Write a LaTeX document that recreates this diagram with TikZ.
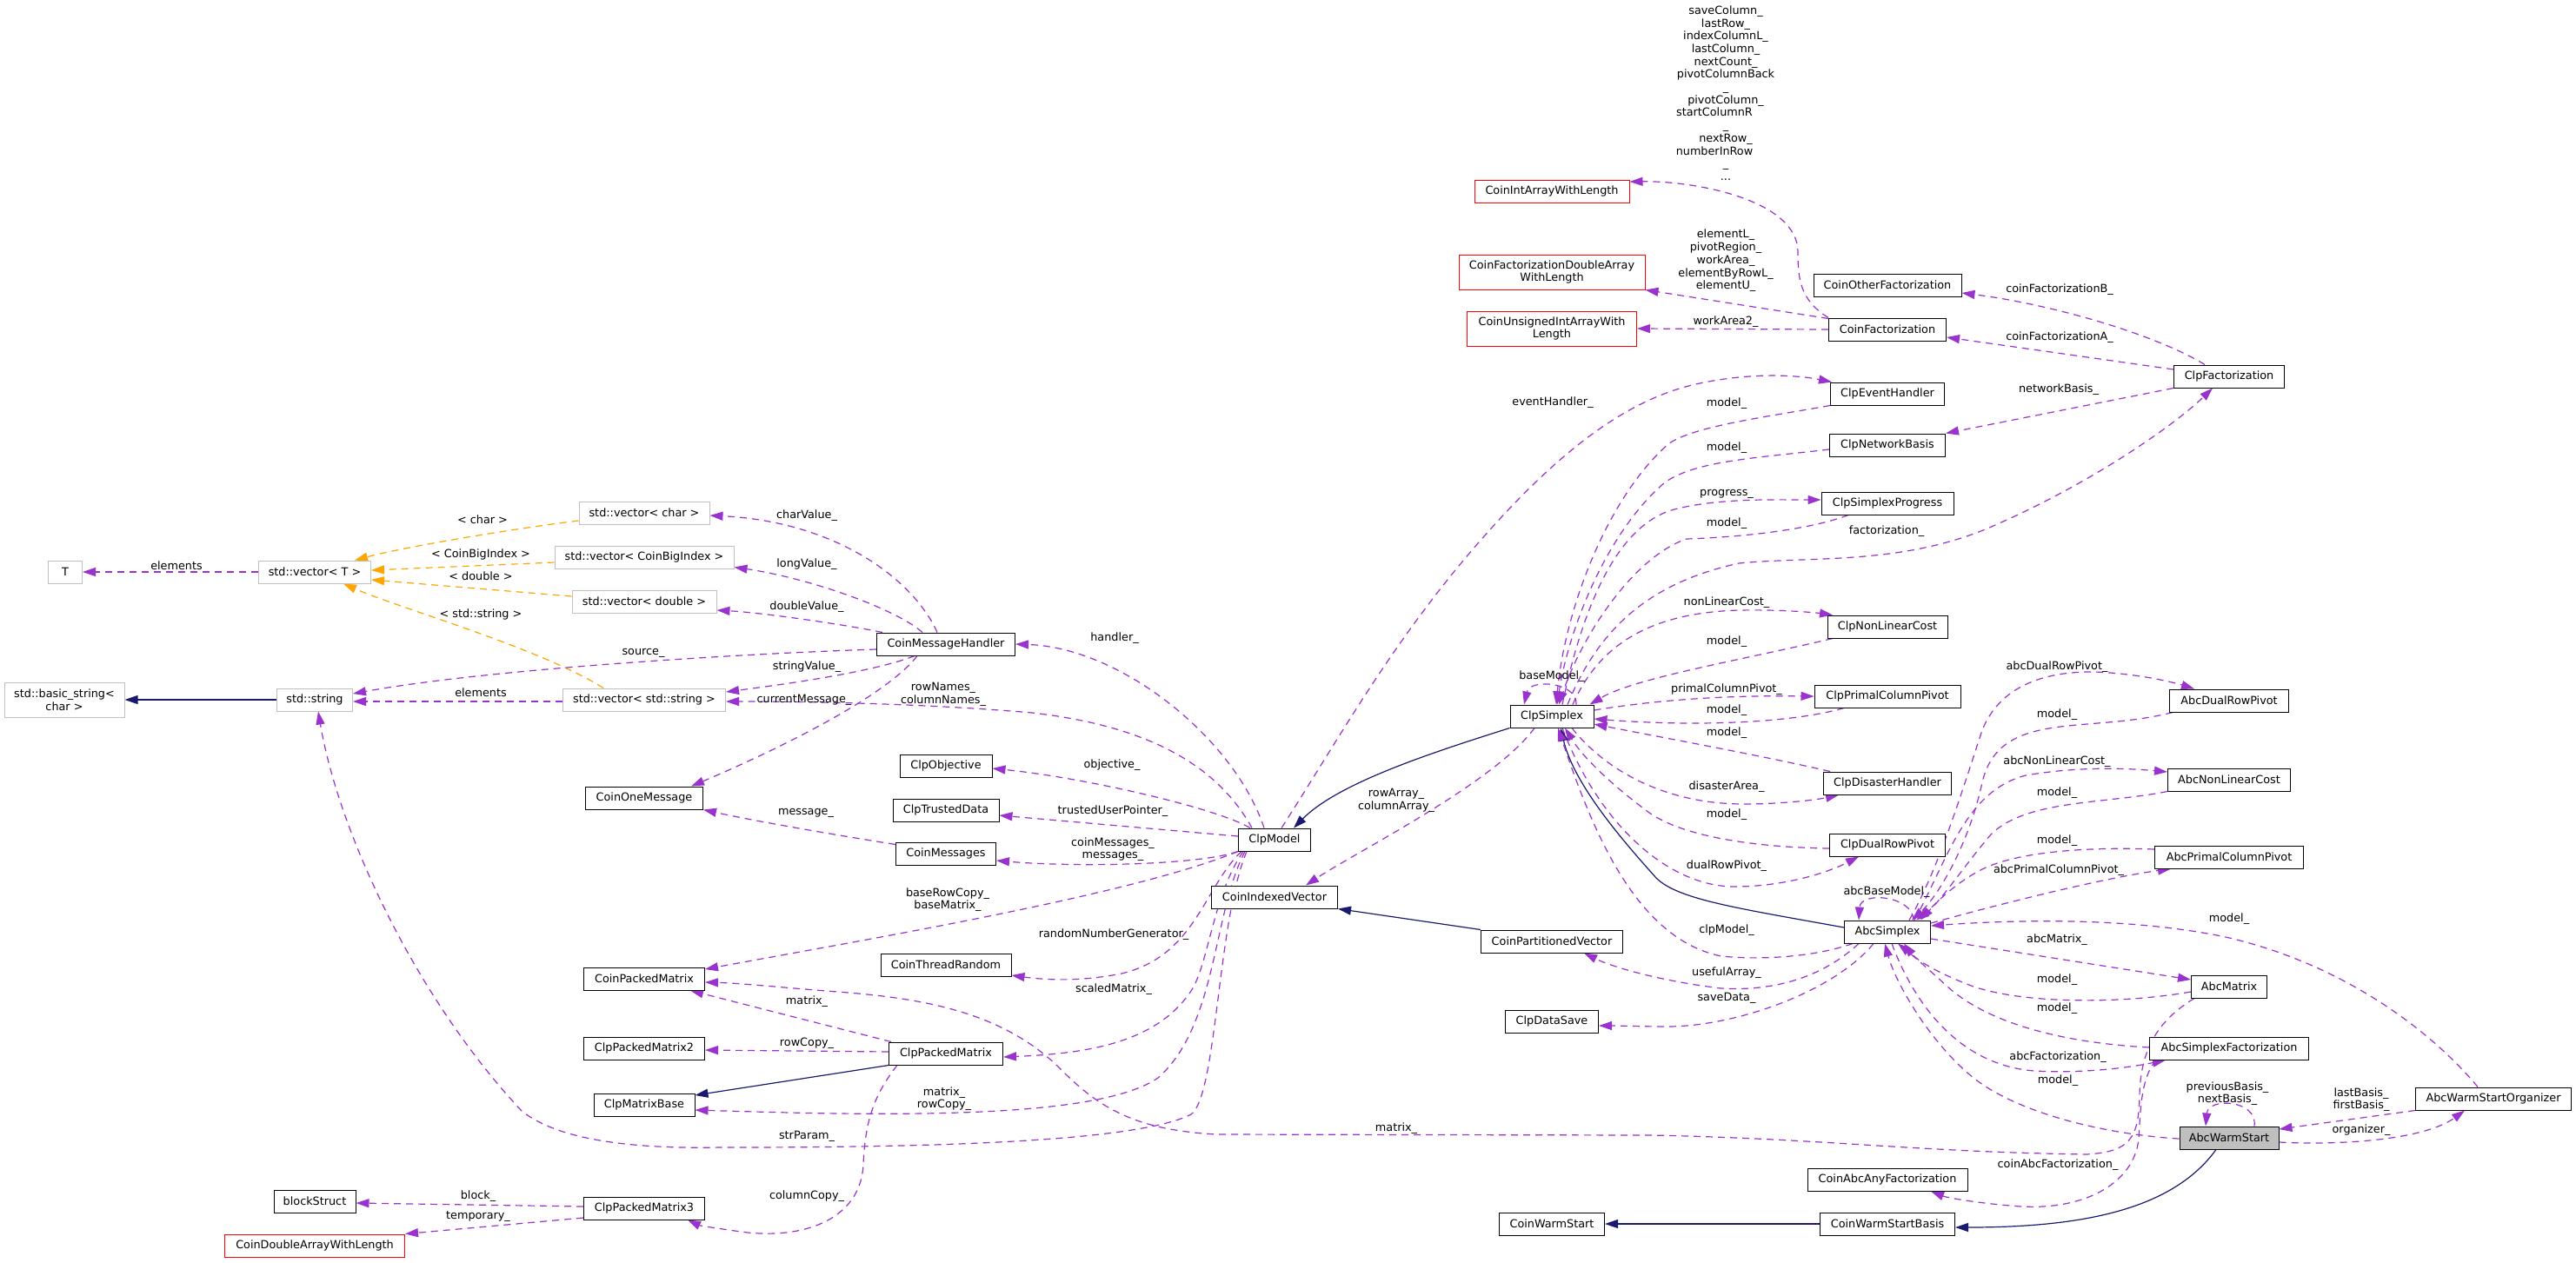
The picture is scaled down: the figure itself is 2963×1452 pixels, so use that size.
\documentclass[tikz,border=0pt]{standalone}
\usepackage{fontspec}
\setmainfont{DejaVu Sans}
\usetikzlibrary{arrows.meta,backgrounds,calc}
\definecolor{dxorchid}{HTML}{9A32CD}
\definecolor{dxnavy}{HTML}{191970}
\definecolor{dxorange}{HTML}{FFA500}
\definecolor{dxgray}{HTML}{BFBFBF}
\definecolor{dxred}{HTML}{FF0000}
\newcommand\dxf{\fontsize{12.8}{14.7}\selectfont}
\tikzset{
  cls/.style={draw=black, line width=1pt, fill=white, minimum height=26pt, inner xsep=3pt, inner ysep=2pt, font=\dxf, text=black},
  extcls/.style={cls, draw=dxgray},
  trunccls/.style={cls, draw=dxred},
  focuscls/.style={cls, fill=dxgray},
  dep/.style={draw=dxorchid, line width=1.2pt, dash pattern=on 8pt off 6pt, -{Triangle[length=15pt,width=10pt]}},
  tpl/.style={dep, draw=dxorange},
  inh/.style={draw=dxnavy, line width=1.2pt, -{Triangle[length=15pt,width=10pt]}},
  lbl/.style={font=\dxf, inner sep=0pt, align=center, text=black}
}
\begin{document}
\begin{tikzpicture}[x=1pt,y=-1pt]
\useasboundingbox (0,0) rectangle (2963,1452);
% ---------- nodes ----------
\node[extcls, minimum width=39pt] (T) at (75,658) {T};
\node[extcls, minimum width=129pt] (vecT) at (362,658) {std::vector< T >};
\node[extcls, minimum width=150pt] (vecChar) at (741,590) {std::vector< char >};
\node[extcls, minimum width=206pt] (vecBig) at (741,641) {std::vector< CoinBigIndex >};
\node[extcls, minimum width=166pt] (vecDbl) at (741,692) {std::vector< double >};
\node[extcls, minimum width=138pt, minimum height=40pt, align=center] (bstr) at (74,805) {std::basic\_string<\\char >};
\node[extcls, minimum width=87pt] (str) at (362,805) {std::string};
\node[extcls, minimum width=187pt] (vecStr) at (741,805) {std::vector< std::string >};
\node[cls, minimum width=159pt] (cmh) at (1088,741) {CoinMessageHandler};
\node[cls, minimum width=135pt] (com) at (741,918) {CoinOneMessage};
\node[cls, minimum width=106pt] (cobj) at (1088,881) {ClpObjective};
\node[cls, minimum width=122pt] (ctd) at (1088,932) {ClpTrustedData};
\node[cls, minimum width=115pt] (cmsg) at (1088,982) {CoinMessages};
\node[cls, minimum width=83pt] (model) at (1466,966) {ClpModel};
\node[cls, minimum width=145pt] (civ) at (1466,1032) {CoinIndexedVector};
\node[cls, minimum width=150pt] (ctr) at (1088,1110) {CoinThreadRandom};
\node[cls, minimum width=131pt] (cpm) at (1088,1212) {ClpPackedMatrix};
\node[cls, minimum width=163pt] (cpv) at (1785,1083) {CoinPartitionedVector};
\node[cls, minimum width=107pt] (cds) at (1785,1175) {ClpDataSave};
\node[cls, minimum width=121pt] (cws) at (1785,1408) {CoinWarmStart};
\node[cls, minimum width=139pt] (coinpm) at (741,1126) {CoinPackedMatrix};
\node[cls, minimum width=139pt] (cpm2) at (741,1206) {ClpPackedMatrix2};
\node[cls, minimum width=116pt] (cmb) at (741,1271) {ClpMatrixBase};
\node[cls, minimum width=94pt] (blk) at (362,1382) {blockStruct};
\node[cls, minimum width=139pt] (cpm3) at (741,1390) {ClpPackedMatrix3};
\node[trunccls, minimum width=207pt] (cdawl) at (362,1433) {CoinDoubleArrayWithLength};
\node[cls, minimum width=96pt] (simplex) at (1785,824) {ClpSimplex};
\node[cls, minimum width=131pt] (ceh) at (2171,453) {ClpEventHandler};
\node[cls, minimum width=133pt] (cnb) at (2171,512) {ClpNetworkBasis};
\node[cls, minimum width=152pt] (csp) at (2171,579) {ClpSimplexProgress};
\node[cls, minimum width=138pt] (cnlc) at (2171,721) {ClpNonLinearCost};
\node[cls, minimum width=168pt] (cpcp) at (2171,801) {ClpPrimalColumnPivot};
\node[cls, minimum width=127pt] (cfact) at (2564,433) {ClpFactorization};
\node[cls, minimum width=147pt] (cdh) at (2171,901) {ClpDisasterHandler};
\node[cls, minimum width=133pt] (cdrp) at (2171,972) {ClpDualRowPivot};
\node[cls, minimum width=99pt] (abc) at (2171,1072) {AbcSimplex};
\node[cls, minimum width=137pt] (adrp) at (2564,806) {AbcDualRowPivot};
\node[cls, minimum width=141pt] (anlc) at (2564,897) {AbcNonLinearCost};
\node[cls, minimum width=171pt] (apcp) at (2564,986) {AbcPrimalColumnPivot};
\node[cls, minimum width=87pt] (amat) at (2564,1135) {AbcMatrix};
\node[cls, minimum width=183pt] (asf) at (2564,1206) {AbcSimplexFactorization};
\node[cls, minimum width=179pt] (awso) at (2868,1264) {AbcWarmStartOrganizer};
\node[focuscls, minimum width=114pt] (aws) at (2564,1309) {AbcWarmStart};
\node[cls, minimum width=184pt] (caaf) at (2171,1357) {CoinAbcAnyFactorization};
\node[cls, minimum width=155pt] (cwsb) at (2171,1408) {CoinWarmStartBasis};
\node[cls, minimum width=170pt] (cof) at (2171,328) {CoinOtherFactorization};
\node[cls, minimum width=135pt] (cf) at (2171,379) {CoinFactorization};
\node[trunccls, minimum width=178pt] (ciawl) at (1785,220) {CoinIntArrayWithLength};
\node[trunccls, minimum width=214pt, minimum height=40pt, align=center] (cfdawl) at (1785,313) {CoinFactorizationDoubleArray\\WithLength};
\node[trunccls, minimum width=195pt, minimum height=40pt, align=center] (cuiawl) at (1785,378) {CoinUnsignedIntArrayWith\\Length};
% ---------- edges ----------
\begin{scope}[on background layer]
\fill[white] (0,0) rectangle (2963,1452);
\draw[dep] (vecT.west) -- (T.east);
\draw[tpl] ([yshift=-9pt]vecChar.west) .. controls (600,607) and (470,628) .. ([xshift=46pt]vecT.north);
\draw[tpl] ([yshift=-6pt]vecBig.west) -- ([yshift=2pt]vecT.east);
\draw[tpl] ([yshift=6pt]vecDbl.west) -- ([yshift=-9pt]vecT.east);
\draw[tpl] ([xshift=-47pt]vecStr.north) .. controls (620,745) and (460,700) .. ([xshift=33pt]vecT.south);
\draw[inh] (str.west) -- (bstr.east);
\draw[dep] ([yshift=-2pt]vecStr.west) -- ([yshift=-2pt]str.east);
\draw[dep] ([yshift=-6pt]cmh.west) .. controls (850,752) and (560,770) .. ([yshift=7pt]str.east);
\draw[dep] ([xshift=-10pt]cmh.north) .. controls (1050,665) and (960,600) .. ([yshift=-3pt]vecChar.east);
\draw[dep] ([xshift=-27pt]cmh.north) .. controls (1030,700) and (930,665) .. ([yshift=2pt]vecBig.south east);
\draw[dep] ([xshift=-73pt]cmh.north) .. controls (980,720) and (880,705) .. ([yshift=-10pt]vecDbl.east);
\draw[dep] ([xshift=-36pt]cmh.south) .. controls (1000,775) and (880,790) .. ([yshift=9pt]vecStr.east);
\draw[dep] ([xshift=-26pt]model.north) .. controls (1400,880) and (1320,835) .. (1187,820) .. controls (1050,808) and (900,807) .. ([yshift=-2pt]vecStr.east);
\draw[dep] ([xshift=-33pt]cmh.south) .. controls (1020,800) and (900,860) .. ([xshift=54pt]com.north);
\draw[dep] ([yshift=-3pt]cmsg.north west) .. controls (970,962) and (870,945) .. (com.south east);
\draw[dep] ([xshift=-12pt]model.north) .. controls (1420,850) and (1290,745) .. (cmh.east);
\draw[dep] ([xshift=-28pt]model.north) .. controls (1400,930) and (1250,895) .. ([yshift=-3pt]cobj.east);
\draw[dep] ([yshift=4pt]model.west) -- ([yshift=-6pt]ctd.east);
\draw[dep] (model.south west) .. controls (1380,995) and (1240,998) .. ([yshift=-8pt]cmsg.east);
\draw[dep] (model.south west) .. controls (1300,1030) and (1000,1080) .. ([yshift=11pt]coinpm.east);
\draw[dep] ([xshift=4pt]model.south west) .. controls (1385,1020) and (1375,1100) .. (1290,1120) .. controls (1240,1130) and (1200,1127) .. ([yshift=-12pt]ctr.east);
\draw[dep] ([xshift=6pt]model.south west) .. controls (1395,1030) and (1390,1110) .. (1370,1140) .. controls (1330,1200) and (1250,1212) .. ([yshift=-4pt]cpm.east);
\draw[dep] ([xshift=8pt]model.south west) .. controls (1395,1050) and (1400,1180) .. (1332,1240) .. controls (1260,1290) and (1000,1283) .. ([yshift=-6pt]cmb.east);
\draw[dep] ([xshift=10pt]model.south west) .. controls (1400,1060) and (1400,1260) .. (1370,1282) .. controls (1300,1318) and (1000,1320) .. (829,1320) .. controls (720,1322) and (640,1310) .. (600,1278) .. controls (480,1150) and (390,960) .. ([xshift=4pt]str.south);
\draw[inh] (simplex.south west) .. controls (1650,865) and (1540,900) .. ([xshift=22pt]model.north);
\draw[dep] ([xshift=-20pt]simplex.south) .. controls (1720,900) and (1560,980) .. ([xshift=36pt]civ.north);
\draw[dep] ([xshift=8pt]model.north) .. controls (1540,850) and (1600,740) .. (1700,625) .. controls (1800,510) and (1880,455) .. (1960,440) .. controls (2020,428) and (2070,432) .. ([xshift=2pt]ceh.north west);
\draw[dep] (ceh.south west) .. controls (2030,480) and (1950,490) .. (1920,510) .. controls (1850,570) and (1800,700) .. ([xshift=5pt]simplex.north);
\draw[dep] ([yshift=-5pt]cnb.west) .. controls (2020,527) and (1950,530) .. (1915,555) .. controls (1850,610) and (1805,720) .. ([xshift=6pt]simplex.north);
\draw[dep] ([xshift=12pt]simplex.north) .. controls (1820,700) and (1860,600) .. (1930,585) .. controls (1980,573) and (2040,575) .. ([yshift=4pt]csp.west);
\draw[dep] ([xshift=-45pt]csp.south) .. controls (2080,610) and (2000,618) .. (1940,620) .. controls (1880,640) and (1820,730) .. ([xshift=8pt]simplex.north);
\draw[dep] ([xshift=18pt]simplex.north) .. controls (1840,720) and (1900,670) .. (2000,648) .. controls (2080,640) and (2180,650) .. (2281,610) .. controls (2400,560) and (2500,490) .. ([xshift=-19pt]cfact.south);
\draw[dep] ([xshift=24pt]simplex.north) .. controls (1840,740) and (1900,705) .. (2000,702) .. controls (2050,701) and (2090,705) .. ([xshift=-63pt]cnlc.north);
\draw[dep] ([xshift=-63pt]cnlc.south) .. controls (2000,760) and (1880,780) .. ([xshift=-5pt]simplex.north east);
\draw[dep] ([xshift=28pt]simplex.north) .. controls (1815,785) and (1760,780) .. ([xshift=-32pt]simplex.north);
\draw[dep] ([yshift=7pt]simplex.east) .. controls (1920,803) and (2000,800) .. (cpcp.west);
\draw[dep] ([xshift=-50pt]cpcp.south) .. controls (2060,832) and (1950,836) .. ([yshift=-3pt]simplex.east);
\draw[dep] ([xshift=-66pt]cdh.north) .. controls (2030,870) and (1920,850) .. ([yshift=-9pt]simplex.east);
\draw[dep] ([xshift=23pt]simplex.south) .. controls (1850,890) and (1920,925) .. (2006,925) .. controls (2050,925) and (2090,920) .. ([xshift=-56pt]cdh.south);
\draw[dep] ([yshift=-4pt]cdrp.west) .. controls (2030,975) and (1940,965) .. (1897,935) .. controls (1850,900) and (1820,870) .. ([xshift=15pt]simplex.south);
\draw[dep] ([xshift=12pt]simplex.south) .. controls (1840,950) and (1920,1020) .. (1995,1020) .. controls (2050,1020) and (2100,1005) .. ([xshift=-33pt]cdrp.south);
\draw[inh] ([yshift=5pt]abc.west) .. controls (2000,1045) and (1930,1035) .. (1905,1010) .. controls (1860,960) and (1810,900) .. ([xshift=10pt]simplex.south);
\draw[dep] ([xshift=-40pt]abc.south) .. controls (2090,1100) and (2030,1105) .. (1980,1100) .. controls (1880,1080) and (1830,950) .. ([xshift=7pt]simplex.south);
\draw[dep] ([xshift=-33pt]abc.south) .. controls (2090,1130) and (2030,1140) .. (1980,1137) .. controls (1920,1130) and (1860,1115) .. ([xshift=37pt]cpv.south);
\draw[dep] ([xshift=-16pt]abc.south) .. controls (2110,1140) and (2000,1180) .. (1920,1181) .. controls (1890,1181) and (1860,1180) .. ([yshift=-5pt]cds.east);
\draw[inh] (cpv.north west) -- (civ.south east);
\draw[dep] ([xshift=30pt]abc.north) .. controls (2200,1030) and (2140,1025) .. ([xshift=-33pt]abc.north);
\draw[dep] ([xshift=25pt]abc.north) .. controls (2230,1000) and (2260,900) .. (2280,840) .. controls (2300,790) and (2350,772) .. (2410,773) .. controls (2460,775) and (2500,785) .. ([xshift=-40pt]adrp.north);
\draw[dep] ([xshift=-65pt]adrp.south) .. controls (2400,845) and (2300,815) .. (2280,900) .. controls (2265,970) and (2230,1030) .. ([xshift=28pt]abc.north);
\draw[dep] ([xshift=31pt]abc.north) .. controls (2240,990) and (2260,910) .. (2330,892) .. controls (2400,880) and (2460,885) .. ([yshift=9pt]anlc.west);
\draw[dep] (anlc.south west) .. controls (2420,925) and (2330,920) .. (2290,960) .. controls (2260,995) and (2230,1040) .. ([xshift=33pt]abc.north);
\draw[dep] ([yshift=9pt]apcp.west) .. controls (2400,974) and (2320,980) .. (2280,1000) .. controls (2250,1015) and (2225,1040) .. ([xshift=38pt]abc.north);
\draw[dep] ([yshift=10pt]abc.east) .. controls (2300,1040) and (2420,1010) .. ([xshift=-67pt]apcp.south);
\draw[dep] ([xshift=-18pt]awso.north) .. controls (2800,1190) and (2700,1110) .. (2560,1078) .. controls (2450,1055) and (2320,1058) .. ([yshift=7pt]abc.east);
\draw[dep] ([yshift=-8pt]abc.east) -- ([yshift=8pt]amat.west);
\draw[dep] ([yshift=-6pt]amat.west) .. controls (2440,1155) and (2330,1155) .. (2270,1135) .. controls (2230,1120) and (2205,1105) .. ([xshift=19pt]abc.south);
\draw[dep] ([yshift=1pt]asf.west) .. controls (2380,1200) and (2290,1180) .. (2240,1135) .. controls (2215,1112) and (2195,1095) .. ([xshift=12pt]abc.south);
\draw[dep] ([xshift=5pt]abc.south) .. controls (2200,1150) and (2250,1225) .. (2340,1232) .. controls (2400,1235) and (2450,1228) .. ([xshift=-73pt]asf.south);
\draw[dep] ([yshift=-1pt]aws.west) .. controls (2420,1305) and (2320,1280) .. (2270,1240) .. controls (2220,1200) and (2180,1130) .. ([xshift=-3pt]abc.south);
\draw[dep] ([xshift=-40pt]amat.south) .. controls (2480,1175) and (2462,1210) .. (2461,1260) .. controls (2460,1310) and (2450,1325) .. (2400,1328) .. controls (2200,1325) and (2100,1310) .. (1900,1306) -- (1400,1305) .. controls (1300,1300) and (1260,1270) .. (1220,1230) .. controls (1150,1160) and (1050,1147) .. (950,1140) .. controls (900,1136) and (850,1131) .. ([yshift=-4pt]coinpm.east);
\draw[dep] ([xshift=-63pt]cpm.north) -- ([xshift=53pt]coinpm.south);
\draw[dep] ([yshift=2pt]cpm.west) -- ([yshift=-2pt]cpm2.east);
\draw[inh] (cpm.south west) -- ([yshift=11pt]cmb.east);
\draw[dep] ([xshift=-56pt]cpm.south) .. controls (1005,1260) and (995,1290) .. (993,1340) .. controls (990,1400) and (930,1425) .. (860,1418) .. controls (830,1414) and (805,1410) .. ([xshift=50pt]cpm3.south);
\draw[dep] ([yshift=2pt]cpm3.west) -- ([yshift=-2pt]blk.east);
\draw[dep] ([yshift=-11pt]cpm3.west) -- (cdawl.north east);
\draw[dep] (cf.north west) .. controls (2070,345) and (2068,320) .. (2068,290) .. controls (2068,230) and (1950,208) .. ([yshift=11pt]ciawl.east);
\draw[dep] ([yshift=-1pt]cf.north west) -- (cfdawl.south east);
\draw[dep] (cf.west) -- (cuiawl.east);
\draw[dep] ([xshift=-28pt]cfact.north) .. controls (2480,385) and (2360,350) .. ([yshift=-9pt]cof.east);
\draw[dep] ([yshift=8pt]cfact.west) -- ([yshift=-9pt]cf.east);
\draw[dep] (cfact.south west) -- (cnb.north east);
\draw[dep] ([xshift=29pt]aws.north) .. controls (2597,1265) and (2540,1262) .. ([xshift=-27pt]aws.north);
\draw[dep] ([yshift=-5pt]aws.east) .. controls (2700,1318) and (2790,1310) .. ([xshift=-33pt]awso.south);
\draw[dep] (awso.south west) -- ([yshift=10pt]aws.east);
\draw[inh] ([xshift=-15pt]aws.south) .. controls (2500,1390) and (2400,1412) .. ([yshift=-4pt]cwsb.east);
\draw[inh] (cwsb.west) -- (cws.east);
\draw[dep] ([xshift=-84pt]asf.south) .. controls (2462,1240) and (2462,1280) .. (2460,1310) .. controls (2455,1360) and (2400,1392) .. (2325,1388) .. controls (2280,1385) and (2240,1378) .. ([xshift=50pt]caaf.south);
\end{scope}
% ---------- labels ----------
\node[lbl] at (203,651) {elements};
\node[lbl] at (555,598) {< char >};
\node[lbl] at (553,638) {< CoinBigIndex >};
\node[lbl] at (553,663) {< double >};
\node[lbl] at (553,707) {< std::string >};
\node[lbl] at (553,797) {elements};
\node[lbl] at (740,751) {source\_};
\node[lbl] at (928,593) {charValue\_};
\node[lbl] at (928,649) {longValue\_};
\node[lbl] at (928,698) {doubleValue\_};
\node[lbl] at (928,767) {stringValue\_};
\node[lbl] at (925,805) {currentMessage\_};
\node[lbl] at (1085,799) {rowNames\_\\columnNames\_};
\node[lbl] at (927,935) {message\_};
\node[lbl] at (1282,734) {handler\_};
\node[lbl] at (1279,880) {objective\_};
\node[lbl] at (1280,933) {trustedUserPointer\_};
\node[lbl] at (1280,977) {coinMessages\_\\messages\_};
\node[lbl] at (1090,1035) {baseRowCopy\_\\baseMatrix\_};
\node[lbl] at (1281,1075) {randomNumberGenerator\_};
\node[lbl] at (1281,1138) {scaledMatrix\_};
\node[lbl] at (1086,1264) {matrix\_\\rowCopy\_};
\node[lbl] at (928,1307) {strParam\_};
\node[lbl] at (928,1152) {matrix\_};
\node[lbl] at (928,1200) {rowCopy\_};
\node[lbl] at (928,1376) {columnCopy\_};
\node[lbl] at (550,1376) {block\_};
\node[lbl] at (550,1399) {temporary\_};
\node[lbl] at (1606,921) {rowArray\_\\columnArray\_};
\node[lbl] at (1786,463) {eventHandler\_};
\node[lbl] at (1986,464) {model\_};
\node[lbl] at (1986,515) {model\_};
\node[lbl] at (1986,568) {progress\_};
\node[lbl] at (1986,602) {model\_};
\node[lbl] at (2170,611) {factorization\_};
\node[lbl] at (1986,693) {nonLinearCost\_};
\node[lbl] at (1986,738) {model\_};
\node[lbl] at (1785,778) {baseModel\_};
\node[lbl] at (1986,793) {primalColumnPivot\_};
\node[lbl] at (1986,817) {model\_};
\node[lbl] at (1986,843) {model\_};
\node[lbl] at (1986,905) {disasterArea\_};
\node[lbl] at (1986,937) {model\_};
\node[lbl] at (1986,996) {dualRowPivot\_};
\node[lbl] at (1986,1070) {clpModel\_};
\node[lbl] at (1986,1119) {usefulArray\_};
\node[lbl] at (1986,1148) {saveData\_};
\node[lbl] at (2170,1026) {abcBaseModel\_};
\node[lbl] at (2366,767) {abcDualRowPivot\_};
\node[lbl] at (2366,822) {model\_};
\node[lbl] at (2366,876) {abcNonLinearCost\_};
\node[lbl] at (2366,912) {model\_};
\node[lbl] at (2366,967) {model\_};
\node[lbl] at (2368,1001) {abcPrimalColumnPivot\_};
\node[lbl] at (2564,1057) {model\_};
\node[lbl] at (2366,1081) {abcMatrix\_};
\node[lbl] at (2366,1127) {model\_};
\node[lbl] at (2366,1160) {model\_};
\node[lbl] at (2367,1216) {abcFactorization\_};
\node[lbl] at (2367,1243) {model\_};
\node[lbl] at (2367,1340) {coinAbcFactorization\_};
\node[lbl] at (1606,1298) {matrix\_};
\node[lbl] at (2562,1258) {previousBasis\_\\nextBasis\_};
\node[lbl] at (2716,1300) {organizer\_};
\node[lbl] at (2716,1265) {lastBasis\_\\firstBasis\_};
\node[lbl] at (1985,107) {saveColumn\_\\lastRow\_\\indexColumnL\_\\lastColumn\_\\nextCount\_\\pivotColumnBack\\\_\\pivotColumn\_\\startColumnR\rule{26pt}{0pt}\\\_\\nextRow\_\\numberInRow\rule{26pt}{0pt}\\\_\\...};
\node[lbl] at (1985,300) {elementL\_\\pivotRegion\_\\workArea\_\\elementByRowL\_\\elementU\_};
\node[lbl] at (1985,370) {workArea2\_};
\node[lbl] at (2369,333) {coinFactorizationB\_};
\node[lbl] at (2369,388) {coinFactorizationA\_};
\node[lbl] at (2368,448) {networkBasis\_};
\end{tikzpicture}
\end{document}
